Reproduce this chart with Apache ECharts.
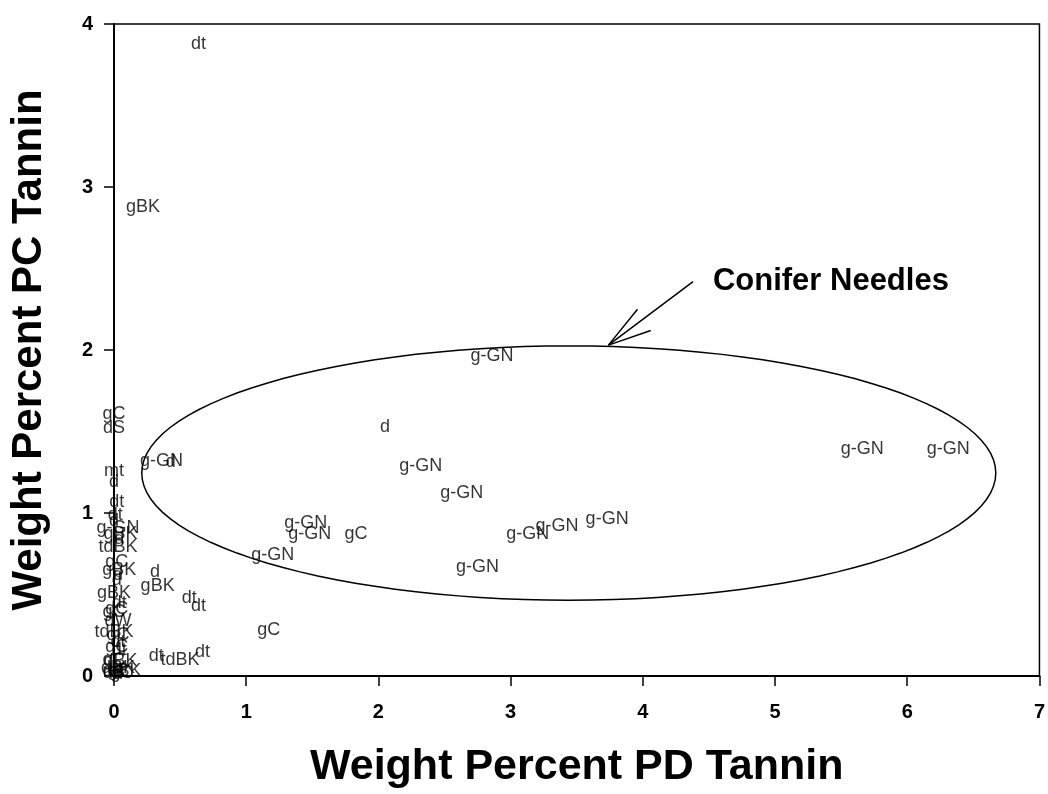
<!DOCTYPE html>
<html style="height: 100%">
<head>
<meta charset="utf-8">
<script src="https://cdn.jsdelivr.net/npm/echarts@6/dist/echarts.min.js"></script>
</head>
<body style="height: 100%; margin: 0; overflow: hidden; background: #fff">
<div id="container" style="width: 100%; height: 100%"></div>
<script type="text/javascript">
// sample codes, PD tannin (x) and PC tannin (y), weight percent
var names = [
  'dt', 'gBK', 'g-GN', 'd', 'g-GN', 'g-GN', 'g-GN', 'g-GN', 'g-GN', 'd',
  'g-GN', 'g-GN', 'gC', 'g-GN', 'g-GN', 'g-GN', 'g-GN', 'g-GN', 'gC', 'd',
  'gBK', 'dt', 'dt', 'dt', 'tdBK', 'dt',
  'gC', 'dS', 'mt', 'd', 'dt', 'dt', 'd', 'g-GN', 'gBK', 'd', 'tdBK',
  'gC', 'gBK', 'd', 'd', 'gBK', 'dt', 'gC', 'gC', 'dW', 'tdBK', 'gC', 'dt',
  'gC', 'dt', 'gC', 'dBK', 'dBK', 'd', 'dt', 'gC', 'dS', 'gBK', 'd'
];
var pdTannin = [
  0.64, 0.22, 2.86, 2.05, 5.66, 6.31, 2.32, 2.63, 0.36, 0.43,
  1.45, 1.48, 1.83, 1.20, 3.13, 3.35, 3.73, 2.75, 1.17, 0.31,
  0.33, 0.57, 0.64, 0.32, 0.50, 0.67,
  0.00, 0.00, 0.00, 0.00, 0.02, 0.01, 0.00, 0.03, 0.05, 0.04, 0.03,
  0.02, 0.04, 0.03, 0.02, 0.00, 0.04, 0.02, 0.00, 0.03, 0.00, 0.03, 0.03,
  0.02, 0.04, 0.00, 0.05, 0.03, -0.05, 0.02, 0.06, 0.00, 0.08, 0.03
];
var pcTannin = [
  3.88, 2.88, 1.96, 1.53, 1.39, 1.39, 1.29, 1.12, 1.32, 1.31,
  0.94, 0.87, 0.87, 0.74, 0.87, 0.92, 0.96, 0.67, 0.28, 0.64,
  0.55, 0.48, 0.43, 0.12, 0.10, 0.15,
  1.61, 1.52, 1.26, 1.19, 1.07, 0.99, 0.95, 0.91, 0.87, 0.84, 0.79,
  0.70, 0.65, 0.62, 0.59, 0.51, 0.45, 0.41, 0.39, 0.34, 0.27, 0.25, 0.21,
  0.18, 0.16, 0.10, 0.09, 0.05, 0.03, 0.03, 0.02, 0.02, 0.03, 0.01
];
var xTicks = [0, 7, 1];
var yTicks = [0, 4, 1];

// conifer needle ellipse (data units) and arrow
var needleEllipse = { cx: 3.44, cy: 1.245, rx: 3.23, ry: 0.78 };
var arrowTail = [4.38, 2.42];
var arrowTip = [3.74, 2.03];
var arrowBarbs = [[3.96, 2.25], [4.06, 2.12]];
var calloutPos = [4.53, 2.42];

var dom = document.getElementById('container');
var myChart = echarts.init(dom);

var points = [];
for (var i = 0; i < names.length; i++) {
  points.push({ name: names[i], value: [pdTannin[i], pcTannin[i]] });
}

var fontFamily = '"Liberation Sans", Arial, Helvetica, sans-serif';

myChart.setOption({
  animation: false,
  grid: {
    left: 114, top: 24, width: 939, height: 661,
    show: true, borderColor: '#000', borderWidth: 1.5
  },
  xAxis: {
    type: 'value', min: xTicks[0], max: xTicks[1], interval: xTicks[2],
    name: 'Weight Percent PD Tannin', nameLocation: 'middle', nameGap: 70,
    nameTextStyle: { fontFamily: fontFamily, fontWeight: 'bold', fontSize: 43, color: '#000' },
    axisLine: { lineStyle: { color: '#000', width: 2 } },
    axisTick: { length: 10, lineStyle: { color: '#000', width: 1.5 } },
    axisLabel: { fontFamily: fontFamily, fontWeight: 'bold', fontSize: 20, color: '#000', margin: 26 },
    splitLine: { show: false }
  },
  yAxis: {
    type: 'value', min: yTicks[0], max: yTicks[1], interval: yTicks[2],
    name: 'Weight Percent PC Tannin', nameLocation: 'middle', nameGap: 64,
    nameTextStyle: { fontFamily: fontFamily, fontWeight: 'bold', fontSize: 42, color: '#000' },
    axisLine: { lineStyle: { color: '#000', width: 2 } },
    axisTick: { length: 10, lineStyle: { color: '#000', width: 1.5 } },
    axisLabel: { fontFamily: fontFamily, fontWeight: 'bold', fontSize: 20, color: '#000', margin: 21 },
    splitLine: { show: false }
  },
  series: [{
    type: 'scatter',
    data: points,
    symbolSize: 1,
    itemStyle: { color: 'transparent' },
    clip: false,
    label: {
      show: true, position: 'inside', formatter: '{b}',
      fontFamily: fontFamily, fontSize: 18, color: '#000'
    }
  }]
});

// annotations placed through the chart's own coordinate system
function px(p) {
  return myChart.convertToPixel({ gridIndex: 0 }, p);
}
var ring = [];
for (var k = 0; k <= 120; k++) {
  var t = k / 120 * Math.PI * 2;
  ring.push(px([needleEllipse.cx + needleEllipse.rx * Math.cos(t),
                needleEllipse.cy + needleEllipse.ry * Math.sin(t)]));
}
var tip = px(arrowTip);
var tail = px(arrowTail);
var b1 = px(arrowBarbs[0]);
var b2 = px(arrowBarbs[1]);
var cp = px(calloutPos);
myChart.setOption({
  graphic: [
    { type: 'polygon', shape: { points: ring }, style: { fill: 'none', stroke: '#000', lineWidth: 1.5 } },
    { type: 'line', shape: { x1: tail[0], y1: tail[1], x2: tip[0], y2: tip[1] }, style: { stroke: '#000', lineWidth: 1.5 } },
    { type: 'line', shape: { x1: b1[0], y1: b1[1], x2: tip[0], y2: tip[1] }, style: { stroke: '#000', lineWidth: 1.5 } },
    { type: 'line', shape: { x1: b2[0], y1: b2[1], x2: tip[0], y2: tip[1] }, style: { stroke: '#000', lineWidth: 1.5 } },
    { type: 'text', x: cp[0], y: cp[1],
      style: { text: 'Conifer Needles', fontFamily: fontFamily, fontWeight: 'bold', fontSize: 31,
               fill: '#000', verticalAlign: 'middle' } }
  ]
});
</script>
</body>
</html>
